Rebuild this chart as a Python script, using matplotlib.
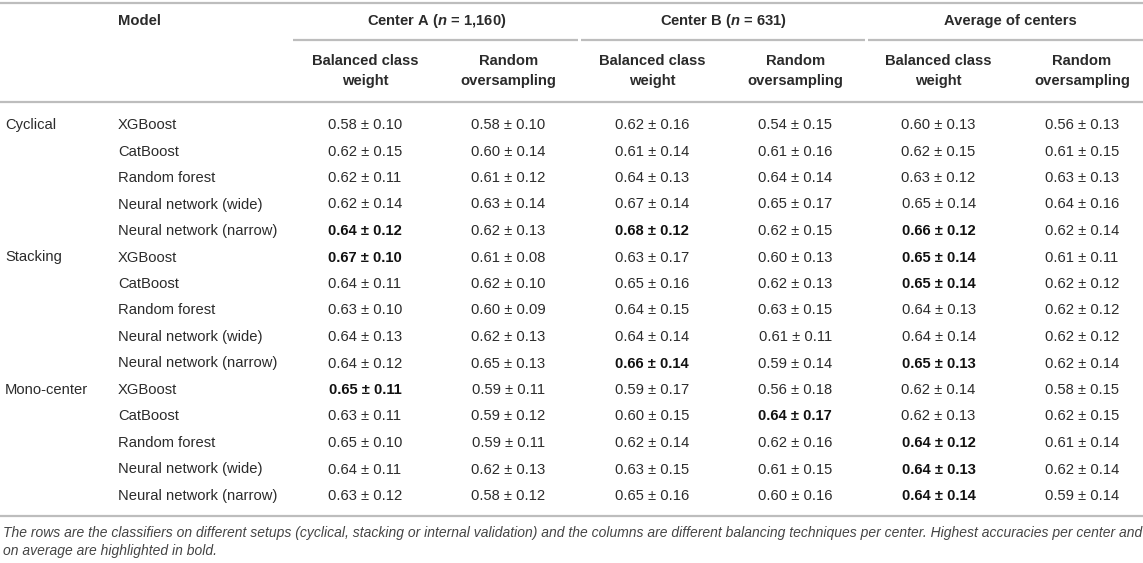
import matplotlib
matplotlib.use("Agg")
import matplotlib.pyplot as plt

plt.rcParams['font.family'] = ['Liberation Sans', 'DejaVu Sans']
plt.rcParams['mathtext.fontset'] = 'custom'
plt.rcParams['mathtext.it'] = 'Liberation Sans:italic:bold'
plt.rcParams['mathtext.rm'] = 'Liberation Sans:bold'

# ---------------- data ----------------
groups = ["Cyclical", "Stacking", "Mono-center"]
models = ["XGBoost", "CatBoost", "Random forest", "Neural network (wide)", "Neural network (narrow)"]
centers = ["Center A ($\\it{n}$ = 1,160)", "Center B ($\\it{n}$ = 631)", "Average of centers"]
techniques = ["Balanced class\nweight", "Random\noversampling"]

# columns: A-balanced, A-random, B-balanced, B-random, Avg-balanced, Avg-random
a_bal_mean = [0.58, 0.62, 0.62, 0.62, 0.64, 0.67, 0.64, 0.63, 0.64, 0.64, 0.65, 0.63, 0.65, 0.64, 0.63]
a_bal_sd   = [0.10, 0.15, 0.11, 0.14, 0.12, 0.10, 0.11, 0.10, 0.13, 0.12, 0.11, 0.11, 0.10, 0.11, 0.12]
a_ros_mean = [0.58, 0.60, 0.61, 0.63, 0.62, 0.61, 0.62, 0.60, 0.62, 0.65, 0.59, 0.59, 0.59, 0.62, 0.58]
a_ros_sd   = [0.10, 0.14, 0.12, 0.14, 0.13, 0.08, 0.10, 0.09, 0.13, 0.13, 0.11, 0.12, 0.11, 0.13, 0.12]
b_bal_mean = [0.62, 0.61, 0.64, 0.67, 0.68, 0.63, 0.65, 0.64, 0.64, 0.66, 0.59, 0.60, 0.62, 0.63, 0.65]
b_bal_sd   = [0.16, 0.14, 0.13, 0.14, 0.12, 0.17, 0.16, 0.15, 0.14, 0.14, 0.17, 0.15, 0.14, 0.15, 0.16]
b_ros_mean = [0.54, 0.61, 0.64, 0.65, 0.62, 0.60, 0.62, 0.63, 0.61, 0.59, 0.56, 0.64, 0.62, 0.61, 0.60]
b_ros_sd   = [0.15, 0.16, 0.14, 0.17, 0.15, 0.13, 0.13, 0.15, 0.11, 0.14, 0.18, 0.17, 0.16, 0.15, 0.16]
m_bal_mean = [0.60, 0.62, 0.63, 0.65, 0.66, 0.65, 0.65, 0.64, 0.64, 0.65, 0.62, 0.62, 0.64, 0.64, 0.64]
m_bal_sd   = [0.13, 0.15, 0.12, 0.14, 0.12, 0.14, 0.14, 0.13, 0.14, 0.13, 0.14, 0.13, 0.12, 0.13, 0.14]
m_ros_mean = [0.56, 0.61, 0.63, 0.64, 0.62, 0.61, 0.62, 0.62, 0.62, 0.62, 0.58, 0.62, 0.61, 0.62, 0.59]
m_ros_sd   = [0.13, 0.15, 0.13, 0.16, 0.14, 0.11, 0.12, 0.12, 0.12, 0.14, 0.15, 0.15, 0.14, 0.14, 0.14]

# bold (highest) cells as (row, column)
bold_cells = [(4, 0), (4, 2), (4, 4),
              (5, 0), (5, 4), (6, 4), (9, 2), (9, 4),
              (10, 0), (11, 3), (12, 4), (13, 4), (14, 4)]

caption = ("The rows are the classifiers on different setups (cyclical, stacking or internal validation) and the columns "
           "are different balancing techniques per center. Highest accuracies per center and\n"
           "on average are highlighted in bold.")

means = [a_bal_mean, a_ros_mean, b_bal_mean, b_ros_mean, m_bal_mean, m_ros_mean]
sds = [a_bal_sd, a_ros_sd, b_bal_sd, b_ros_sd, m_bal_sd, m_ros_sd]

# ---------------- layout ----------------
W, H = 1143, 563
fig = plt.figure(figsize=(W / 100, H / 100), dpi=100)
ax = fig.add_axes([0, 0, 1, 1])
ax.set_xlim(0, W)
ax.set_ylim(H, 0)
ax.axis('off')

txt = '#2b2b2b'
rule = '#bdbdbd'
fs = 10.6

col_x = [365 + 143.4 * i for i in range(6)]
group_x = 5
model_x = 118
row_y0, row_dy = 125, 26.5

# rules
ax.hlines(2.5, 0, W, color=rule, lw=1.6)
ax.hlines(102, 0, W, color=rule, lw=1.6)
ax.hlines(516, 0, W, color=rule, lw=1.6)
spans = [(293, 578), (581, 865), (868, W)]
for x0, x1 in spans:
    ax.hlines(40, x0, x1, color=rule, lw=1.6)

# headers
ax.text(model_x, 21, "Model", ha='left', va='center', fontsize=fs, fontweight='bold', color=txt)
for i, c in enumerate(centers):
    cx = (col_x[2 * i] + col_x[2 * i + 1]) / 2
    ax.text(cx, 21, c, ha='center', va='center', fontsize=fs, fontweight='bold', color=txt)
for j in range(6):
    ax.text(col_x[j], 71, techniques[j % 2], ha='center', va='center', fontsize=fs,
            fontweight='bold', color=txt, linespacing=1.5)

# body
for r in range(15):
    y = row_y0 + r * row_dy
    if r % 5 == 0:
        ax.text(group_x, y, groups[r // 5], ha='left', va='center', fontsize=fs, color=txt)
    ax.text(model_x, y, models[r % 5], ha='left', va='center', fontsize=fs, color=txt)
    for j in range(6):
        s = f"{means[j][r]:.2f} \u00b1 {sds[j][r]:.2f}"
        bold = (r, j) in bold_cells
        ax.text(col_x[j], y, s, ha='center', va='center', fontsize=fs,
                fontweight='bold' if bold else 'normal', color='#111111' if bold else txt)

# caption
ax.text(3, 526, caption, ha='left', va='top', fontsize=10.0, style='italic', color='#444444',
        linespacing=1.4)

fig.savefig("out.png", dpi=100)
